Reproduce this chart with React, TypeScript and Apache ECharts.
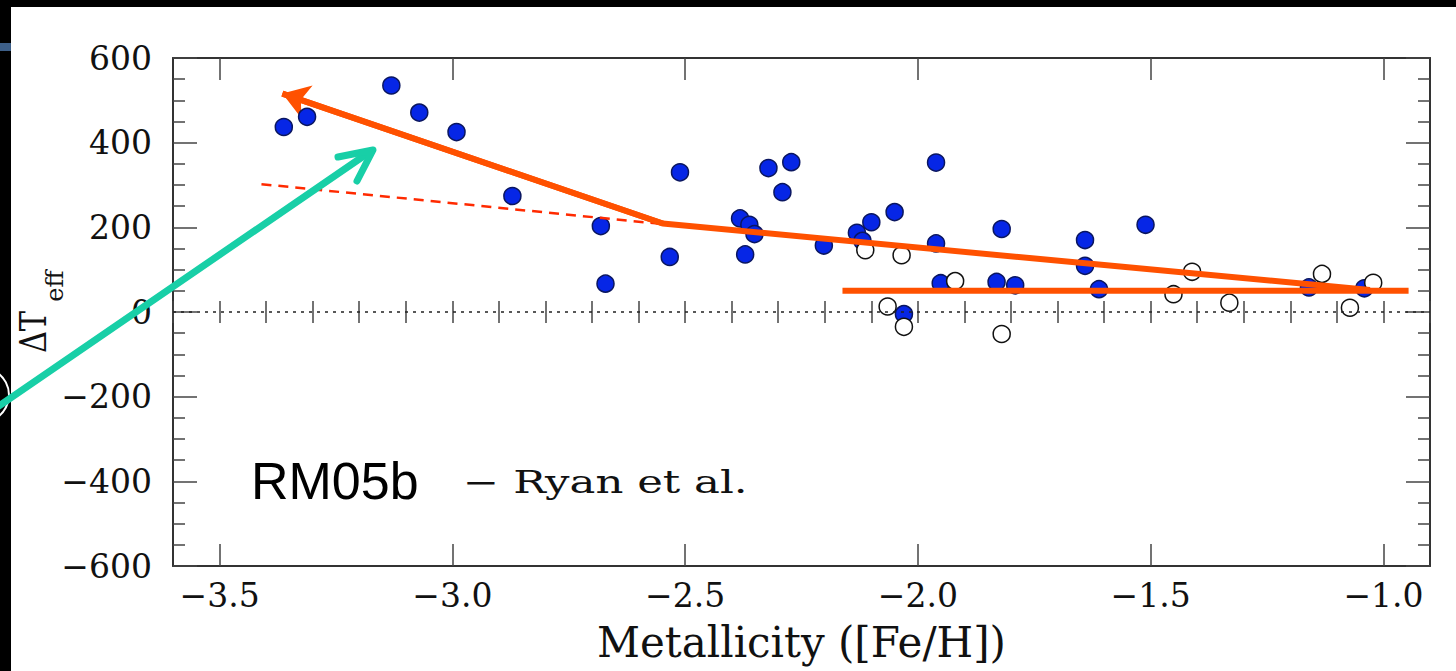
import React, { useEffect, useRef } from "react";
import * as echarts from "echarts";

// ---- data ----
const filledX = [-3.362, -3.312, -3.131, -3.071, -2.991, -2.871, -2.681, -2.671, -2.533, -2.511, -2.382, -2.371, -2.362, -2.351, -2.321, -2.291, -2.272, -2.202, -2.131, -2.119, -2.1, -2.05, -2.03, -1.961, -1.961, -1.951, -1.831, -1.82, -1.791, -1.641, -1.641, -1.611, -1.511, -1.16, -1.041];
const filledY = [437, 461, 535, 471, 425, 274, 203, 67, 130, 330, 221, 136, 206, 184, 340, 283, 354, 157, 187, 168, 212, 236, -5, 353, 162, 68, 71, 196, 63, 170, 109, 54, 206, 58, 56];
const openX = [-2.113, -2.035, -2.065, -2.03, -1.92, -1.82, -1.451, -1.411, -1.331, -1.132, -1.072, -1.022];
const openY = [146, 134, 13, -35, 73, -52, 42, 95, 22, 90, 10, 69];

// broken trend line (right end -> kink -> arrow tip)
const trendX = [-1.029, -2.548, -3.365];
const trendY = [52, 209, 516];
// flat line at high metallicity
const flatX = [-2.162, -0.946];
const flatY = [50, 50];
// dashed extrapolation
const dashX = [-3.41, -2.551];
const dashY = [302, 208];
// zero reference
const zeroX = [-3.6, -0.9];
const zeroY = [0, 0];

const xTickValues = [-3.5, -3.0, -2.5, -2.0, -1.5, -1.0];
const yTickValues = [-600, -400, -200, 0, 200, 400, 600];

const xTitle = "Metallicity ([Fe/H])";
const yTitleMain = "ΔT";
const yTitleSub = "eff";
const panelLabel = "RM05b";
const sourceLabel = "− Ryan et al.";

const SERIF = "DejaVu Serif";
const ORANGE = "#ff5100";
const TEAL = "#18cfa7";

const pairs = (xs: number[], ys: number[]) => xs.map((x, i) => [x, ys[i]]);
const fmtX = (v: number) => (v < 0 ? "\u2212" : "") + Math.abs(v).toFixed(1);
const fmtY = (v: number) => (v < 0 ? "\u2212" + Math.abs(v) : String(v));

export default function App() {
  const ref = useRef<HTMLDivElement>(null);
  useEffect(() => {
    if (!ref.current) return;
    const chart = echarts.init(ref.current, undefined, { renderer: "svg" });
    const frame = { show: true, onZero: false, lineStyle: { color: "#333", width: 2 } };
    const majorTick = (len: number) => ({ show: true, inside: true, length: len, lineStyle: { color: "#444", width: 1.5 } });
    const labelStyle = { fontFamily: SERIF, fontSize: 33, color: "#111" };
    const xCommon = { type: "value" as const, min: -3.6, max: -0.9, splitLine: { show: false } };
    const option: any = {
      animation: false,
      backgroundColor: "#ffffff",
      grid: { left: 173, right: 26, top: 58, bottom: 105, containLabel: false, outerBoundsMode: "none" },
      xAxis: [
        {
          ...xCommon,
          position: "bottom",
          axisLine: frame,
          axisTick: { ...majorTick(22), customValues: xTickValues },
          axisLabel: { ...labelStyle, margin: 13, customValues: xTickValues, formatter: fmtX },
          name: xTitle,
          nameLocation: "middle",
          nameGap: 55,
          nameTextStyle: { fontFamily: SERIF, fontSize: 42, color: "#111" },
        },
        {
          ...xCommon,
          position: "bottom",
          interval: 0.1,
          axisLine: { show: false },
          axisTick: majorTick(11),
          axisLabel: { show: false },
        },
        {
          ...xCommon,
          position: "top",
          axisLine: frame,
          axisTick: { ...majorTick(22), customValues: xTickValues },
          axisLabel: { show: false },
        },
        {
          ...xCommon,
          position: "top",
          interval: 0.1,
          axisLine: { show: false },
          axisTick: majorTick(11),
          axisLabel: { show: false },
        },
      ],
      yAxis: [
        {
          type: "value",
          min: yTickValues[0],
          max: yTickValues[yTickValues.length - 1],
          interval: 200,
          position: "left",
          axisLine: frame,
          axisTick: majorTick(24),
          minorTick: { show: true, splitNumber: 4, length: 12, lineStyle: { color: "#444", width: 1.5 } },
          splitLine: { show: false },
          axisLabel: { ...labelStyle, margin: 21, formatter: fmtY },
        },
        {
          type: "value",
          min: yTickValues[0],
          max: yTickValues[yTickValues.length - 1],
          interval: 200,
          position: "right",
          axisLine: frame,
          axisTick: majorTick(24),
          minorTick: { show: true, splitNumber: 4, length: 12, lineStyle: { color: "#444", width: 1.5 } },
          splitLine: { show: false },
          axisLabel: { show: false },
        },
      ],
      series: [
        {
          type: "line",
          data: pairs(zeroX, zeroY),
          symbol: "none",
          silent: true,
          lineStyle: { color: "#222", width: 1.3, type: [3, 5] },
        },
        {
          type: "line",
          data: pairs(dashX, dashY),
          symbol: "none",
          silent: true,
          lineStyle: { color: "#ff2a00", width: 2.5, type: [10, 7] },
        },
        {
          type: "scatter",
          data: pairs(filledX, filledY),
          symbol: "circle",
          symbolSize: 17,
          itemStyle: { color: "#0626e6", borderColor: "#0a1660", borderWidth: 1.5, opacity: 1 },
        },
        {
          type: "scatter",
          data: pairs(openX, openY),
          symbol: "circle",
          symbolSize: 17,
          itemStyle: { color: "#ffffff", borderColor: "#111", borderWidth: 1.5, opacity: 1 },
        },
        {
          type: "line",
          data: pairs(flatX, flatY),
          symbol: "none",
          silent: true,
          lineStyle: { color: ORANGE, width: 6, cap: "butt" },
        },
        {
          type: "line",
          data: pairs(trendX, trendY),
          symbol: "none",
          silent: true,
          lineStyle: { color: ORANGE, width: 6, join: "round" },
        },
        {
          type: "lines",
          coordinateSystem: "cartesian2d",
          silent: true,
          symbol: ["none", "arrow"],
          symbolSize: [24, 26],
          lineStyle: { color: ORANGE, width: 6, opacity: 1 },
          data: [{ coords: [[trendX[1], trendY[1]], [trendX[2], trendY[2]]] }],
        },
      ],
      graphic: [
        { type: "rect", shape: { x: 0, y: 0, width: 1456, height: 7 }, style: { fill: "#000" }, z: 50 },
        { type: "rect", shape: { x: 0, y: 0, width: 11, height: 671 }, style: { fill: "#000" }, z: 50 },
        { type: "rect", shape: { x: 0, y: 43, width: 11, height: 8 }, style: { fill: "#3d5f88" }, z: 51 },
        { type: "circle", shape: { cx: -18, cy: 395, r: 27 }, style: { fill: "none", stroke: "#fff", lineWidth: 2 }, z: 51 },
        {
          type: "polyline",
          shape: { points: [[-10, 412], [371, 151]] },
          style: { stroke: TEAL, lineWidth: 7, fill: "none", lineCap: "round" },
          z: 100,
        },
        {
          type: "polyline",
          shape: { points: [[338, 157], [373, 150], [357, 181]] },
          style: { stroke: TEAL, lineWidth: 7, fill: "none", lineCap: "round", lineJoin: "round" },
          z: 100,
        },
        {
          type: "text",
          x: 33,
          y: 332,
          rotation: Math.PI / 2,
          scaleX: 0.8,
          style: { text: yTitleMain, fontFamily: SERIF, fontSize: 38, fill: "#111", align: "center", verticalAlign: "middle", textAlign: "center", textVerticalAlign: "middle" },
          z: 60,
        },
        {
          type: "text",
          x: 55,
          y: 286,
          rotation: Math.PI / 2,
          style: { text: yTitleSub, fontFamily: SERIF, fontSize: 24, fill: "#111", align: "center", verticalAlign: "middle", textAlign: "center", textVerticalAlign: "middle" },
          z: 60,
        },
        {
          type: "text",
          x: 251,
          y: 481,
          style: { text: panelLabel, fontFamily: "Liberation Sans", fontSize: 52, fill: "#000", align: "left", verticalAlign: "middle", textAlign: "left", textVerticalAlign: "middle" },
          z: 60,
        },
        {
          type: "text",
          x: 463,
          y: 482,
          scaleX: 1.4,
          style: { text: sourceLabel, fontFamily: SERIF, fontSize: 31, fill: "#111", align: "left", verticalAlign: "middle", textAlign: "left", textVerticalAlign: "middle" },
          z: 60,
        },
      ],
    };
    chart.setOption(option);
    return () => chart.dispose();
  }, []);
  return <div ref={ref} style={{ position: "absolute", left: 0, top: 0, width: 1456, height: 671 }} />;
}
